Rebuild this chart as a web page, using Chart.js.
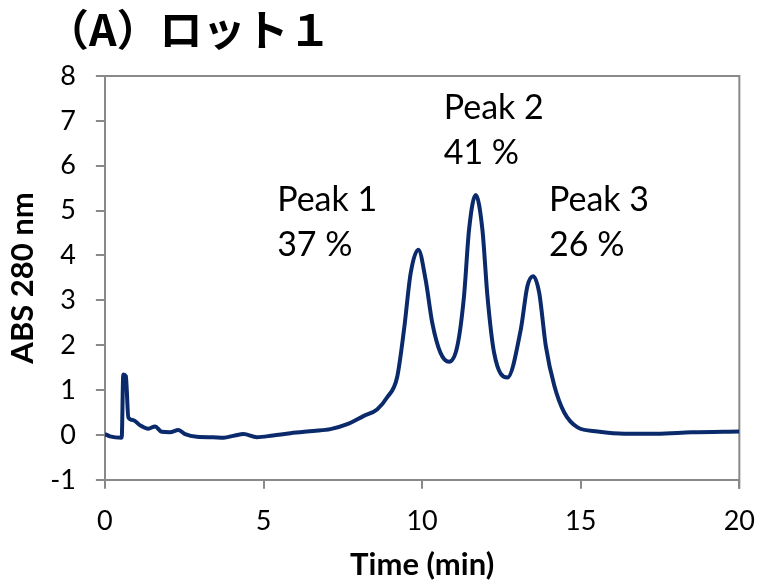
<!DOCTYPE html>
<html>
<head>
<meta charset="utf-8">
<script src="https://cdn.jsdelivr.net/npm/chart.js@4/dist/chart.umd.min.js"></script>
<style>
    html, body { margin: 0; padding: 0; background: #fff; }
    #wrap { width: 757px; height: 584px; }
</style>
</head>
<body>
<div id="wrap"><canvas id="myChart" width="757" height="584"></canvas></div>
<script>
// chromatogram (time in min, absorbance)
const time = [0, 0.16, 0.53, 0.58, 0.66, 0.74, 0.9, 1.1, 1.37, 1.58, 1.79, 2.05, 2.32, 2.53, 2.9,
    3.4, 3.74, 4.1, 4.37, 4.79, 5.3, 5.85, 6.57, 7.11, 7.64, 8.15, 8.58, 8.9, 9.21, 9.43, 9.64,
    9.88, 10.11, 10.32, 10.58, 10.85, 11.11, 11.32, 11.48, 11.69, 11.9, 12.06, 12.27, 12.69,
    13.11, 13.32, 13.5, 13.69, 13.9, 14.17, 14.48, 14.9, 15.53, 16.37, 17.4, 18.48, 20];
const abs280 = [0.02, -0.03, -0.06, 1.35, 1.31, 0.39, 0.33, 0.22, 0.14, 0.19, 0.07, 0.06, 0.11, 0.02, -0.04,
    -0.05, -0.06, -0.01, 0.02, -0.05, -0.01, 0.04, 0.09, 0.13, 0.24, 0.42, 0.57, 0.84, 1.28, 2.35, 3.61,
    4.13, 3.46, 2.5, 1.83, 1.63, 1.98, 3.09, 4.58, 5.35, 4.58, 3.09, 1.83, 1.28,
    2.35, 3.32, 3.54, 3.17, 1.98, 1.09, 0.5, 0.17, 0.08, 0.03, 0.03, 0.06, 0.08];

const xTicks = [0, 5, 10, 15, 20];
const yTicks = [-1, 0, 1, 2, 3, 4, 5, 6, 7, 8];

const peakNames = ['Peak 1', 'Peak 2', 'Peak 3'];
const peakShares = ['37 %', '41 %', '26 %'];
const peakLabelX = [5.43, 10.68, 14.0];
const peakLabelY = [5.24, 7.29, 5.24];

const titleText = '（A）ロット１';
const lineColor = '#0a2a6b';
const axisGray = '#898989';

const points = time.map((t, i) => ({ x: t, y: abs280[i] }));

// frame on top/right, peak labels, title
const extras = {
    id: 'extras',
    beforeDatasetsDraw(chart) {
        const { ctx, chartArea: a } = chart;
        ctx.save();
        ctx.strokeStyle = axisGray;
        ctx.lineWidth = 2;
        ctx.beginPath();
        ctx.moveTo(a.left, a.top);
        ctx.lineTo(a.right, a.top);
        ctx.lineTo(a.right, a.bottom + 9);
        ctx.stroke();
        ctx.restore();
    },
    afterDraw(chart) {
        const { ctx, chartArea: a } = chart;
        const xs = chart.scales.x, ys = chart.scales.y;
        ctx.save();
        ctx.fillStyle = '#000';
        ctx.font = '34px Lato';
        ctx.textAlign = 'left';
        ctx.textBaseline = 'middle';
        peakNames.forEach((n, i) => {
            const px = xs.getPixelForValue(peakLabelX[i]);
            const py = ys.getPixelForValue(peakLabelY[i]);
            ctx.fillText(n, px, py);
            ctx.fillText(peakShares[i], px, py + 45);
        });
        ctx.font = 'bold 43px "Noto Sans CJK JP"';
        ctx.textBaseline = 'alphabetic';
        ctx.fillText(titleText, a.left - 59, 46);
        ctx.restore();
    }
};

const ctx = document.getElementById('myChart');
new Chart(ctx, {
    type: 'line',
    data: {
        datasets: [{
            data: points,
            borderColor: lineColor,
            borderWidth: 4,
            pointRadius: 0,
            cubicInterpolationMode: 'monotone',
            fill: false
        }]
    },
    options: {
        responsive: false,
        animation: false,
        events: [],
        layout: { padding: { top: 76, right: 0, bottom: 0, left: 4 } },
        plugins: { legend: { display: false }, tooltip: { enabled: false } },
        scales: {
            x: {
                type: 'linear',
                min: 0,
                max: 20,
                afterBuildTicks: (s) => { s.ticks = xTicks.map(v => ({ value: v })); },
                ticks: { color: '#000', font: { family: 'Lato', size: 27, lineHeight: 2.22 }, padding: 2, maxRotation: 0 },
                grid: { drawOnChartArea: false, drawTicks: true, tickLength: 9, color: axisGray, lineWidth: 2 },
                border: { color: axisGray, width: 2 },
                title: { display: true, text: 'Time (min)', color: '#000', font: { family: 'Lato', size: 31, weight: 'bold' }, padding: { top: -6, bottom: 0 } }
            },
            y: {
                min: -1,
                max: 8,
                afterBuildTicks: (s) => { s.ticks = yTicks.map(v => ({ value: v })); },
                ticks: { color: '#000', font: { family: 'Lato', size: 27 }, padding: 20 },
                grid: { drawOnChartArea: false, drawTicks: true, tickLength: 9, color: axisGray, lineWidth: 2 },
                border: { color: axisGray, width: 2 },
                title: { display: true, text: 'ABS 280 nm', color: '#000', font: { family: 'Lato', size: 31, weight: 'bold' }, padding: { top: 0, bottom: -11 } }
            }
        }
    },
    plugins: [extras]
});
</script>
</body>
</html>
